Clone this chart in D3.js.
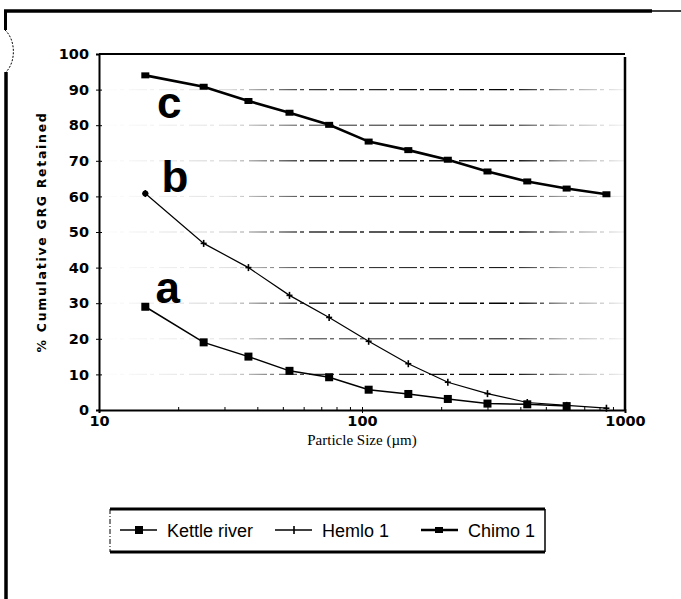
<!DOCTYPE html>
<html>
<head>
<meta charset="utf-8">
<script src="https://cdn.jsdelivr.net/npm/d3@7"></script>
<style>
  html, body { margin: 0; padding: 0; background: #fff; }
  svg { display: block; }
</style>
</head>
<body>
<svg id="chart" width="681" height="599"></svg>
<script>
// Sieve sizes (µm) and cumulative GRG retained (%) for each ore
const sizesKettle = [15, 25, 37, 53, 75, 106, 150, 212, 300, 425, 600];
const kettleRiver = [29, 19, 15, 11, 9.2, 5.7, 4.5, 3.1, 1.8, 1.6, 1.1];

const sizesHemlo = [15, 25, 37, 53, 75, 106, 150, 212, 300, 425, 600, 850];
const hemlo1 = [60.8, 46.8, 40, 32.2, 26, 19.3, 13, 7.8, 4.6, 2.1, 1.3, 0.5];

const sizesChimo = [15, 25, 37, 53, 75, 106, 150, 212, 300, 425, 600, 850];
const chimo1 = [94, 90.8, 86.8, 83.5, 80.1, 75.4, 73, 70.3, 67, 64.2, 62.2, 60.6];

const xTicks = [10, 100, 1000];
const xMinorTicks = [20, 30, 40, 50, 60, 70, 80, 90, 200, 300, 400, 500, 600, 700, 800, 900];
const yTicks = [0, 10, 20, 30, 40, 50, 60, 70, 80, 90, 100];
const gridValues = [10, 20, 30, 40, 50, 60, 70, 80, 90];

// Curve letters, anchored in data units (size, %)
const curveLabels = ["a", "b", "c"];
const curveLabelSize = [16.4, 17.3, 16.6];
const curveLabelValue = [30, 61.3, 82];

const legendNames = ["Kettle river", "Hemlo 1", "Chimo 1"];

const svg = d3.select("#chart");
const plotLeft = 99, plotRight = 625, plotTop = 54, plotBottom = 410;

const x = d3.scaleLog().domain([10, 1000]).range([plotLeft, plotRight]);
const y = d3.scaleLinear().domain([0, 100]).range([plotBottom, plotTop]);

// ---- outer frame ----
const frame = svg.append("g").attr("fill", "none").attr("stroke", "#000");
frame.append("line").attr("x1", 4).attr("x2", 652).attr("y1", 11).attr("y2", 11).attr("stroke-width", 3.5);
frame.append("line").attr("x1", 652).attr("x2", 681).attr("y1", 11).attr("y2", 11).attr("stroke-width", 1.5);
frame.append("line").attr("x1", 5.5).attr("x2", 5.5).attr("y1", 10).attr("y2", 30).attr("stroke-width", 3);
frame.append("path").attr("d", "M5,30 C16,40 16,62 6,72").attr("stroke-width", 1).attr("stroke-dasharray", "2,1.5");
frame.append("line").attr("x1", 6).attr("x2", 6).attr("y1", 72).attr("y2", 599).attr("stroke-width", 3.5);

// ---- grid: faint toward the left edge, dark through the middle ----
const defs = svg.append("defs");
const grad = defs.append("linearGradient").attr("id", "gridFade")
  .attr("gradientUnits", "userSpaceOnUse")
  .attr("x1", plotLeft).attr("x2", plotRight).attr("y1", 0).attr("y2", 0);
[[0, "#fff"], [0.25, "#ddd"], [0.4, "#333"], [0.78, "#000"], [0.88, "#999"], [1, "#f4f4f4"]]
  .forEach(([o, c]) => grad.append("stop").attr("offset", o).attr("stop-color", c));

svg.append("g")
  .selectAll("line")
  .data(gridValues)
  .join("line")
  .attr("x1", plotLeft).attr("x2", plotRight)
  .attr("y1", d => y(d)).attr("y2", d => y(d))
  .attr("stroke", "url(#gridFade)")
  .attr("stroke-width", d => d % 20 === 0 ? 1 : 1.4)
  .attr("stroke-dasharray", "18,3,4,5");

// ---- plot border (top and right) ----
svg.append("line").attr("x1", plotLeft).attr("x2", plotRight).attr("y1", plotTop).attr("y2", plotTop)
  .attr("stroke", "#000").attr("stroke-width", 2);
svg.append("line").attr("x1", plotRight).attr("x2", plotRight).attr("y1", plotTop + 3).attr("y2", plotBottom)
  .attr("stroke", "#000").attr("stroke-width", 2.5);

// ---- axes ----
const tickFont = "'DejaVu Sans', sans-serif";

const yAxis = svg.append("g").attr("transform", `translate(${plotLeft},0)`)
  .call(d3.axisLeft(y).tickValues(yTicks).tickSize(3).tickPadding(7).tickFormat(d3.format("d")));
svg.append("g").attr("transform", `translate(${plotLeft},0)`)
  .call(d3.axisRight(y).tickValues(yTicks).tickSize(3).tickFormat(""))
  .select(".domain").remove();
yAxis.select(".domain").attr("stroke-width", 2);
yAxis.selectAll("text").attr("font-family", tickFont).attr("font-weight", "bold")
  .attr("font-size", 14.5).attr("fill", "#000");

const xAxis = svg.append("g").attr("transform", `translate(0,${plotBottom})`)
  .call(d3.axisBottom(x).tickValues(xTicks).tickSize(3).tickPadding(3).tickFormat(d3.format("d")));
xAxis.select(".domain").attr("stroke-width", 2);
xAxis.selectAll("text").attr("font-family", tickFont).attr("font-weight", "bold")
  .attr("font-size", 14.5).attr("fill", "#000");
svg.append("g").attr("transform", `translate(0,${plotBottom})`)
  .call(d3.axisTop(x).tickValues(xTicks.concat(xMinorTicks)).tickSize(3).tickFormat(""))
  .select(".domain").remove();

// ---- axis titles ----
svg.append("text")
  .attr("transform", `translate(46,${(plotTop + plotBottom) / 2}) rotate(-90)`)
  .attr("text-anchor", "middle")
  .attr("font-family", tickFont).attr("font-weight", "bold").attr("font-size", 12.5)
  .attr("letter-spacing", 1.7)
  .text("% Cumulative GRG Retained");

svg.append("text")
  .attr("x", (plotLeft + plotRight) / 2).attr("y", 445)
  .attr("text-anchor", "middle")
  .attr("font-family", "'Liberation Serif', 'Times New Roman', serif").attr("font-size", 15)
  .text("Particle Size (\u00b5m)");

// ---- series ----
const line = (sizes) => d3.line().x((d, i) => x(sizes[i])).y(d => y(d));

// Kettle river: thin line with filled squares
svg.append("path").datum(kettleRiver).attr("d", line(sizesKettle))
  .attr("fill", "none").attr("stroke", "#000").attr("stroke-width", 1.5);
svg.append("g").selectAll("rect").data(kettleRiver).join("rect")
  .attr("x", (d, i) => x(sizesKettle[i]) - 4).attr("y", d => y(d) - 4)
  .attr("width", 8).attr("height", 8).attr("fill", "#000");

// Hemlo 1: thin line with small plus markers
svg.append("path").datum(hemlo1).attr("d", line(sizesHemlo))
  .attr("fill", "none").attr("stroke", "#000").attr("stroke-width", 1.2);
const plus = svg.append("g").attr("stroke", "#000").attr("stroke-width", 1.6);
hemlo1.forEach((d, i) => {
  const cx = x(sizesHemlo[i]), cy = y(d);
  plus.append("line").attr("x1", cx - 3).attr("x2", cx + 3).attr("y1", cy).attr("y2", cy);
  plus.append("line").attr("x1", cx).attr("x2", cx).attr("y1", cy - 3.5).attr("y2", cy + 3.5);
});
svg.append("circle").attr("cx", x(sizesHemlo[0])).attr("cy", y(hemlo1[0])).attr("r", 3).attr("fill", "#000");

// Chimo 1: heavy line with small rectangles
svg.append("path").datum(chimo1).attr("d", line(sizesChimo))
  .attr("fill", "none").attr("stroke", "#000").attr("stroke-width", 2.6);
svg.append("g").selectAll("rect").data(chimo1).join("rect")
  .attr("x", (d, i) => x(sizesChimo[i]) - 4).attr("y", d => y(d) - 3)
  .attr("width", 8).attr("height", 6).attr("fill", "#000");

// ---- curve letters ----
svg.append("g").selectAll("text").data(curveLabels).join("text")
  .attr("x", (d, i) => x(curveLabelSize[i]))
  .attr("y", (d, i) => y(curveLabelValue[i]))
  .attr("font-family", "'Liberation Sans', Arial, sans-serif")
  .attr("font-weight", "bold").attr("font-size", 44)
  .text(d => d);

// ---- legend ----
const lg = svg.append("g");
lg.append("line").attr("x1", 110).attr("x2", 545).attr("y1", 509).attr("y2", 509).attr("stroke", "#000").attr("stroke-width", 3);
lg.append("line").attr("x1", 110).attr("x2", 545).attr("y1", 552).attr("y2", 552).attr("stroke", "#000").attr("stroke-width", 3);
lg.append("line").attr("x1", 110).attr("x2", 110).attr("y1", 509).attr("y2", 552).attr("stroke", "#000").attr("stroke-width", 1).attr("stroke-dasharray", "5,2,1,2");
lg.append("line").attr("x1", 545).attr("x2", 545).attr("y1", 509).attr("y2", 552).attr("stroke", "#000").attr("stroke-width", 1.5);

const legendX = [120, 275, 421];
const ly = 530;
const legendFont = "'Liberation Sans', Arial, sans-serif";
legendNames.forEach((name, i) => {
  const x0 = legendX[i];
  lg.append("line").attr("x1", x0).attr("x2", x0 + 37).attr("y1", ly).attr("y2", ly)
    .attr("stroke", "#000").attr("stroke-width", i === 2 ? 2.4 : 1.5);
  if (i === 0) {
    lg.append("rect").attr("x", x0 + 15).attr("y", ly - 4).attr("width", 8).attr("height", 8).attr("fill", "#000");
  } else if (i === 1) {
    lg.append("line").attr("x1", x0 + 19).attr("x2", x0 + 19).attr("y1", ly - 4).attr("y2", ly + 4).attr("stroke", "#000").attr("stroke-width", 1.6);
  } else {
    lg.append("rect").attr("x", x0 + 14).attr("y", ly - 3).attr("width", 8).attr("height", 6).attr("fill", "#000");
  }
  lg.append("text").attr("x", x0 + 47).attr("y", ly + 6.5)
    .attr("font-family", legendFont).attr("font-size", 18).attr("fill", "#000")
    .text(name);
});
</script>
</body>
</html>
